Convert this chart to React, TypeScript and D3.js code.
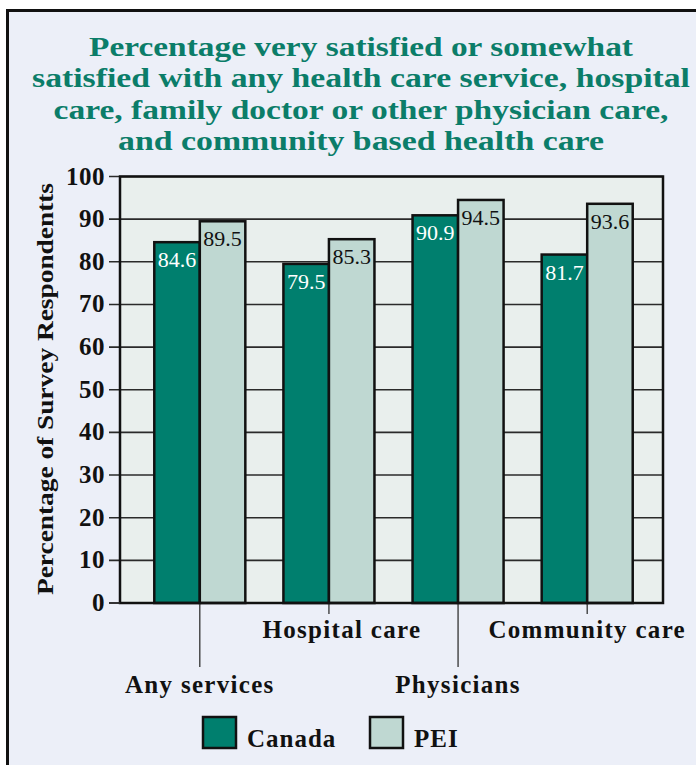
import React from "react";
import * as d3 from "d3";

const categories = ["Any services", "Hospital care", "Physicians", "Community care"];
const canada = [84.6, 79.5, 90.9, 81.7];
const pei = [89.5, 85.3, 94.5, 93.6];
const yTicks = [0, 10, 20, 30, 40, 50, 60, 70, 80, 90, 100];
const labelLow = [true, false, true, false];
const titleLines = [
  "Percentage very satisfied or somewhat",
  "satisfied with any health care service, hospital",
  "care, family doctor or other physician care,",
  "and community based health care",
];
const titleWidths = [544, 658, 615, 486];
const seriesNames = ["Canada", "PEI"];

const W = 696;
const H = 765;
const CANADA = "#007f6e";
const PEI_C = "#bfd8d2";
const PANEL = "#eceff8";
const PLOT = "#e9efed";
const TEAL_TEXT = "#0b7d69";
const FONT = '"Liberation Serif", serif';

export default function App() {
  const plotL = 120, plotR = 663, plotT = 176.5, plotB = 603;
  const y = d3.scaleLinear().domain([0, 100]).range([plotB, plotT]);
  const x = d3.scaleBand<string>().domain(categories).range([122, 665]).paddingInner(0.295).paddingOuter(0.25);
  const xs = d3.scaleBand<string>().domain(seriesNames).range([0, x.bandwidth()]);
  const bw = xs.bandwidth();
  const series = [canada, pei];
  const fills = [CANADA, PEI_C];
  const labelFill = ["#ffffff", "#111111"];

  return (
    <svg width={W} height={H} style={{ position: "fixed", left: 0, top: 0, fontFamily: FONT }}>
      <rect x={0} y={0} width={W} height={H} fill="#ffffff" />
      <rect x={7.5} y={10.5} width={W + 20} height={H + 20} fill={PANEL} stroke="#111" strokeWidth={3} />

      {titleLines.map((t, i) => (
        <text key={i} x={361} y={56 + i * 31.4} textAnchor="middle" fontSize={27} fontWeight="bold" fill={TEAL_TEXT}
          textLength={titleWidths[i]} lengthAdjust="spacingAndGlyphs" style={{ fontFamily: FONT }}>{t}</text>
      ))}

      {/* plot background */}
      <rect x={plotL} y={plotT} width={plotR - plotL} height={plotB - plotT} fill={PLOT} />
      {/* gridlines and ticks */}
      {yTicks.map((t) => (
        <g key={t}>
          <line x1={109} x2={plotR} y1={y(t)} y2={y(t)} stroke="#2a2a2a" strokeWidth={1.6} />
          <text x={105} y={y(t) + 8} textAnchor="end" fontSize={25} fontWeight="bold" fill="#111" letterSpacing={0.5}
            style={{ fontFamily: FONT }}>{t}</text>
        </g>
      ))}

      {/* bars */}
      {categories.map((c, i) => (
        <g key={c} transform={`translate(${x(c)},0)`}>
          {series.map((s, j) => (
            <g key={j}>
              <rect x={xs(seriesNames[j])} y={y(s[i])} width={bw} height={y(0) - y(s[i])}
                fill={fills[j]} stroke="#111" strokeWidth={2.5} />
              <text x={(xs(seriesNames[j]) as number) + bw / 2} y={y(s[i]) + 25} textAnchor="middle"
                fontSize={22} fill={labelFill[j]} style={{ fontFamily: FONT }}>{s[i].toFixed(1)}</text>
            </g>
          ))}
        </g>
      ))}

      {/* plot frame */}
      <rect x={plotL} y={plotT} width={plotR - plotL} height={plotB - plotT} fill="none" stroke="#111" strokeWidth={2.5} />
      <line x1={109} x2={plotL} y1={y(0)} y2={y(0)} stroke="#2a2a2a" strokeWidth={1.6} />

      {/* category leaders and labels */}
      {categories.map((c, i) => {
        const cx = (x(c) as number) + x.bandwidth() / 2;
        const low = labelLow[i];
        return (
          <g key={c}>
            <line x1={cx} x2={cx} y1={plotB + 1} y2={low ? 667 : 614} stroke="#333" strokeWidth={1.3} />
            <text x={cx + (c === "Hospital care" ? 13 : 0)} y={low ? 693 : 638} textAnchor="middle" fontSize={25}
              fontWeight="bold" fill="#111" letterSpacing={1.3} style={{ fontFamily: FONT }}>{c}</text>
          </g>
        );
      })}

      {/* y axis title */}
      <text transform="translate(53,389) rotate(-90)" textAnchor="middle" fontSize={24} fontWeight="bold" fill="#111"
        textLength={412} lengthAdjust="spacingAndGlyphs" style={{ fontFamily: FONT }}>Percentage of Survey Respondentts</text>

      {/* legend */}
      {seriesNames.map((n, j) => {
        const lx = j === 0 ? 203 : 370;
        return (
          <g key={n}>
            <rect x={lx} y={717} width={33} height={31} fill={fills[j]} stroke="#111" strokeWidth={2.5} />
            <text x={lx + 44} y={747} fontSize={25} fontWeight="bold" fill="#111" letterSpacing={1}
              style={{ fontFamily: FONT }}>{n}</text>
          </g>
        );
      })}
    </svg>
  );
}
